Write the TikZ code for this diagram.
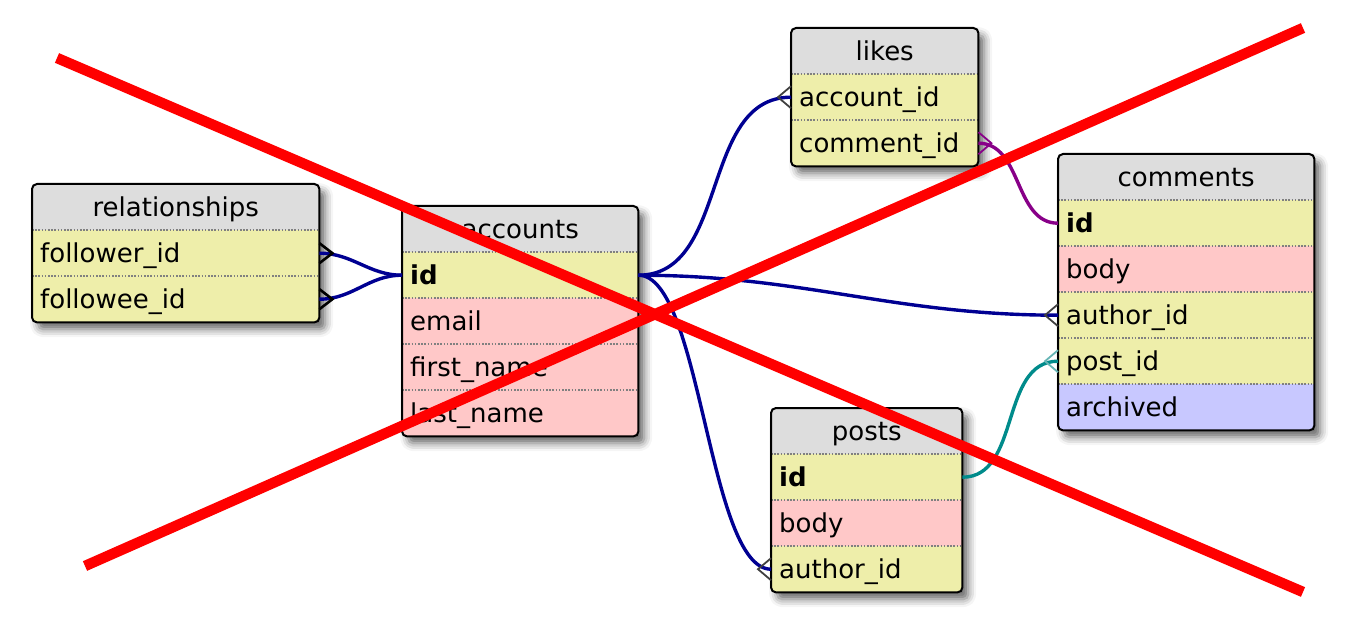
\documentclass[tikz,border=0pt]{standalone}
\usepackage{fontspec}
\setmainfont{DejaVu Sans}
\usetikzlibrary{shadows.blur}
\definecolor{hdrgray}{HTML}{DDDDDD}
\definecolor{keyyellow}{HTML}{EEEEAA}
\definecolor{fieldpink}{HTML}{FFC8C8}
\definecolor{flagblue}{HTML}{C8C8FF}
\definecolor{navy}{HTML}{000092}
\definecolor{plum}{HTML}{880088}
\definecolor{sea}{HTML}{008B8B}
\definecolor{seapale}{HTML}{66B5B5}
\tikzset{
 tbl/.style={anchor=north west, inner sep=0pt, rounded corners=5pt, fill=white,
  blur shadow={shadow xshift=6pt, shadow yshift=-7pt, shadow blur radius=8pt, shadow opacity=60}},
 tblframe/.style={draw=black, line width=2pt, rounded corners=5pt},
 cell/.style={anchor=north west, minimum height=46pt, inner sep=0pt, inner xsep=8pt,
  text height=23pt, text depth=5pt, font=\fontsize{26}{30}\selectfont},
 wd/.style={minimum width=#1pt, text width=#1pt-16pt},
 hdr/.style={cell, fill=hdrgray, align=center},
 key/.style={cell, fill=keyyellow},
 field/.style={cell, fill=fieldpink},
 flag/.style={cell, fill=flagblue},
 rowsep/.style={draw=gray, line width=1.6pt, dash pattern=on 1.6pt off 1.6pt},
 link/.style={line width=3.4pt},
 crow/.style={line width=1.8pt},
 cross/.style={draw=red, line width=10.5pt}
}
\begin{document}
\begin{tikzpicture}[x=1pt, y=-1pt]
 \useasboundingbox (0,0) rectangle (1364,636);

 % relationships
 \node (rel) at (32,184) [tbl, minimum width=287pt, minimum height=138pt] {};
 \begin{scope}
  \clip[rounded corners=5pt] (rel.north west) rectangle (rel.south east);
  \node (rel-h) at (32,184) [hdr, wd=287] {relationships};
  \node (rel-1) at (32,230) [key, wd=287] {follower\_id};
  \node (rel-2) at (32,276) [key, wd=287] {followee\_id};
 \end{scope}
 \draw[rowsep] (rel-1.north west) -- (rel-1.north east) (rel-2.north west) -- (rel-2.north east);
 \draw[tblframe] (rel.north west) rectangle (rel.south east);

 % accounts
 \node (acc) at (402,206) [tbl, minimum width=236pt, minimum height=230pt] {};
 \begin{scope}
  \clip[rounded corners=5pt] (acc.north west) rectangle (acc.south east);
  \node (acc-h) at (402,206) [hdr, wd=236] {accounts};
  \node (acc-1) at (402,252) [key, wd=236] {\textbf{id}};
  \node (acc-2) at (402,298) [field, wd=236] {email};
  \node (acc-3) at (402,344) [field, wd=236] {first\_name};
  \node (acc-4) at (402,390) [field, wd=236] {last\_name};
 \end{scope}
 \draw[rowsep] (acc-1.north west) -- (acc-1.north east) (acc-2.north west) -- (acc-2.north east);
 \draw[rowsep] (acc-3.north west) -- (acc-3.north east) (acc-4.north west) -- (acc-4.north east);
 \draw[tblframe] (acc.north west) rectangle (acc.south east);

 % likes
 \node (lk) at (791,28) [tbl, minimum width=187pt, minimum height=138pt] {};
 \begin{scope}
  \clip[rounded corners=5pt] (lk.north west) rectangle (lk.south east);
  \node (lk-h) at (791,28) [hdr, wd=187] {likes};
  \node (lk-1) at (791,74) [key, wd=187] {account\_id};
  \node (lk-2) at (791,120) [key, wd=187] {comment\_id};
 \end{scope}
 \draw[rowsep] (lk-1.north west) -- (lk-1.north east) (lk-2.north west) -- (lk-2.north east);
 \draw[tblframe] (lk.north west) rectangle (lk.south east);

 % comments
 \node (cm) at (1058,154) [tbl, minimum width=256pt, minimum height=276pt] {};
 \begin{scope}
  \clip[rounded corners=5pt] (cm.north west) rectangle (cm.south east);
  \node (cm-h) at (1058,154) [hdr, wd=256] {comments};
  \node (cm-1) at (1058,200) [key, wd=256] {\textbf{id}};
  \node (cm-2) at (1058,246) [field, wd=256] {body};
  \node (cm-3) at (1058,292) [key, wd=256] {author\_id};
  \node (cm-4) at (1058,338) [key, wd=256] {post\_id};
  \node (cm-5) at (1058,384) [flag, wd=256] {archived};
 \end{scope}
 \draw[rowsep] (cm-1.north west) -- (cm-1.north east) (cm-2.north west) -- (cm-2.north east);
 \draw[rowsep] (cm-3.north west) -- (cm-3.north east) (cm-4.north west) -- (cm-4.north east);
 \draw[rowsep] (cm-5.north west) -- (cm-5.north east);
 \draw[tblframe] (cm.north west) rectangle (cm.south east);

 % posts
 \node (ps) at (771,408) [tbl, minimum width=191pt, minimum height=184pt] {};
 \begin{scope}
  \clip[rounded corners=5pt] (ps.north west) rectangle (ps.south east);
  \node (ps-h) at (771,408) [hdr, wd=191] {posts};
  \node (ps-1) at (771,454) [key, wd=191] {\textbf{id}};
  \node (ps-2) at (771,500) [field, wd=191] {body};
  \node (ps-3) at (771,546) [key, wd=191] {author\_id};
 \end{scope}
 \draw[rowsep] (ps-1.north west) -- (ps-1.north east) (ps-2.north west) -- (ps-2.north east);
 \draw[rowsep] (ps-3.north west) -- (ps-3.north east);
 \draw[tblframe] (ps.north west) rectangle (ps.south east);

 % links
 \draw[link, navy] (rel-1.east) to[out=0, in=180] (acc-1.west);
 \draw[link, navy] (rel-2.east) to[out=0, in=180] (acc-1.west);
 \draw[link, navy] (acc-1.east) to[out=0, in=180] (lk-1.west);
 \draw[link, navy] (acc-1.east) to[out=0, in=180] (cm-3.west);
 \draw[link, navy] (acc-1.east) to[out=0, in=180, looseness=0.5] (ps-3.west);
 \draw[link, plum] (lk-2.east) to[out=0, in=180] (cm-1.west);
 \draw[link, sea] (ps-1.east) to[out=0, in=180] (cm-4.west);

 % crow's feet
 \draw[crow, black, line width=2.6pt] ([yshift=10pt]rel-1.east) -- ++(13,10) -- ++(-13,10);
 \draw[crow, black, line width=2.6pt] ([yshift=10pt]rel-2.east) -- ++(13,10) -- ++(-13,10);
 \draw[crow, plum] ([yshift=11pt]lk-2.east) -- ++(13,11) -- ++(-13,11);
 \draw[crow, darkgray] ([yshift=11pt]lk-1.west) -- ++(-13,11) -- ++(13,11);
 \draw[crow, darkgray] ([yshift=11pt]cm-3.west) -- ++(-13,11) -- ++(13,11);
 \draw[crow, seapale] ([yshift=11pt]cm-4.west) -- ++(-13,11) -- ++(13,11);
 \draw[crow, darkgray] ([yshift=11pt]ps-3.west) -- ++(-13,11) -- ++(13,11);

 % cross
 \coordinate (x1) at (57,58);
 \coordinate (x2) at (1303,592);
 \coordinate (x3) at (85,566);
 \coordinate (x4) at (1303,28);
 \draw[cross] (x1) -- (x2) (x3) -- (x4);
\end{tikzpicture}
\end{document}
